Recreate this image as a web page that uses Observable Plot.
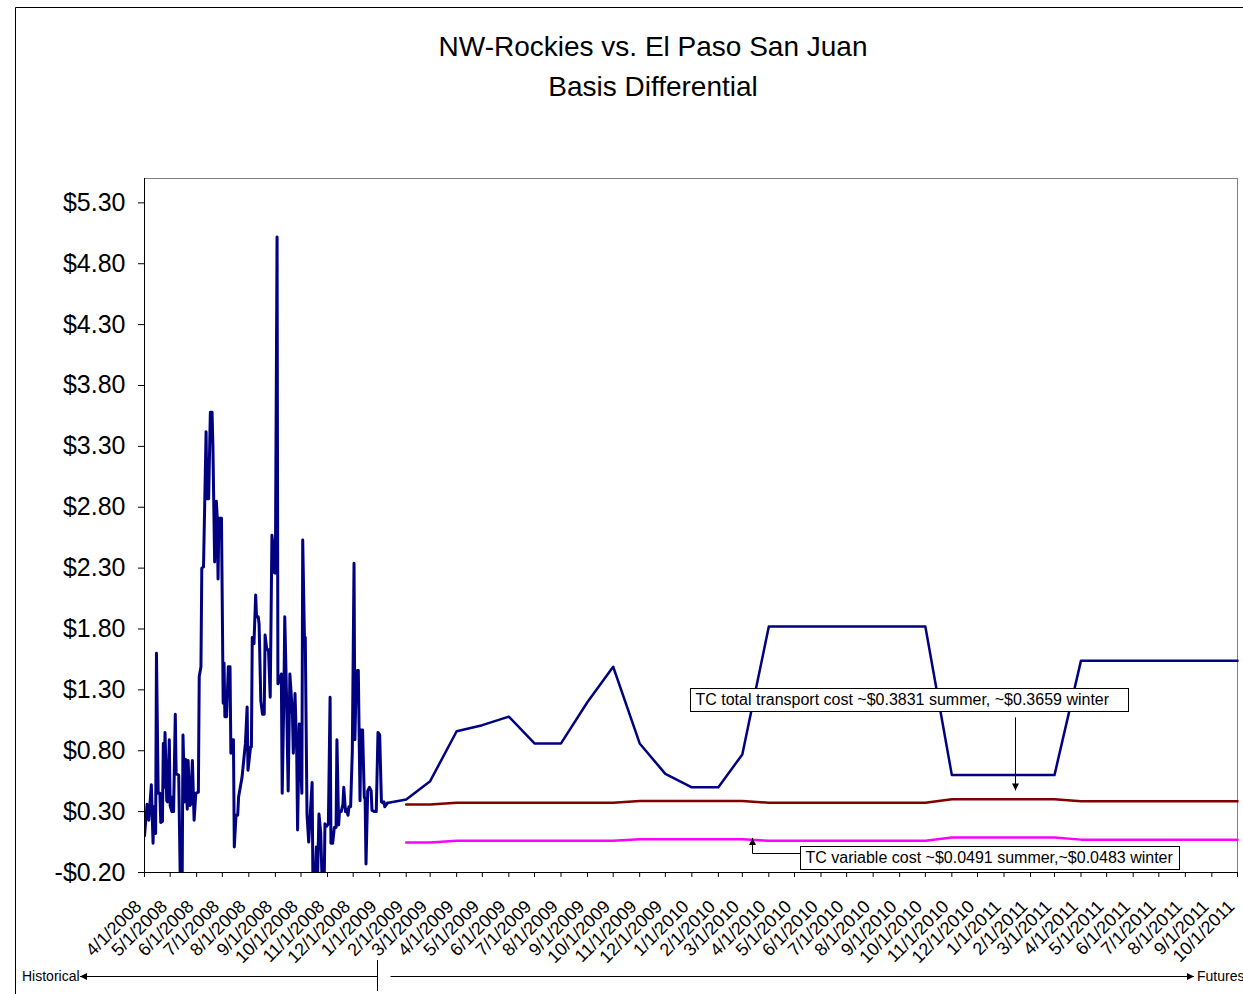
<!DOCTYPE html>
<html><head><meta charset="utf-8">
<script src="https://cdn.jsdelivr.net/npm/d3@7"></script>
<script src="https://cdn.jsdelivr.net/npm/@observablehq/plot@0.6"></script>
<style>
html,body{margin:0;padding:0;background:#fff;overflow:hidden;}
#wrap{position:relative;width:1243px;height:994px;font-family:"Liberation Sans",Arial,sans-serif;}
#wrap svg{position:absolute;left:0;top:0;}
</style></head><body><div id="wrap"></div>
<script>
// ---------- DATA ----------
const titleLines = ["NW-Rockies vs. El Paso San Juan", "Basis Differential"];
const yTicks = [-0.2, 0.3, 0.8, 1.3, 1.8, 2.3, 2.8, 3.3, 3.8, 4.3, 4.8, 5.3];
// historical daily basis: [days since 4/1/2008, $/MMBtu]
const histPoints = [
 [0,0.10],[3,0.36],[5,0.23],[8,0.52],[10,0.04],[11,0.34],[13,0.12],[14,1.60],[16,0.45],[18,0.45],
 [19,0.21],[21,0.22],[22,0.86],[23,0.50],[24,0.95],[26,0.39],[27,0.38],[29,0.89],[30,0.35],[32,0.30],
 [33,0.42],[34,0.30],[36,1.10],[37,0.61],[40,0.60],[42,-0.35],[44,-0.35],[45,0.93],[47,0.38],[48,0.73],
 [50,0.32],[51,0.72],[53,0.35],[54,0.36],[56,0.72],[58,0.23],[60,0.45],[63,0.46],[64,1.41],[66,1.49],
 [67,2.30],[69,2.31],[72,3.42],[73,2.87],[75,2.87],[77,3.58],[79,3.58],[80,3.30],[82,2.35],[84,2.85],
 [85,2.72],[86,2.21],[87,2.71],[90,2.71],[92,1.19],[93,1.52],[94,1.08],[96,1.08],[98,1.49],[100,1.49],
 [101,0.78],[102,0.89],[104,0.89],[105,0.01],[107,0.27],[109,0.27],[110,0.42],[112,0.50],[114,0.58],[116,0.72],
 [118,0.86],[120,1.16],[121,0.64],[124,0.83],[125,0.83],[126,1.73],[128,1.68],[130,2.08],[131,1.90],[133,1.90],
 [134,1.84],[136,1.21],[138,1.10],[140,1.10],[141,1.75],[143,1.63],[145,1.63],[147,1.24],[149,2.57],[150,2.50],
 [152,2.26],[153,2.26],[155,5.02],[156,1.35],[158,1.38],[160,1.43],[161,0.45],[163,1.27],[164,1.90],[166,1.27],
 [168,0.47],[170,1.43],[173,1.10],[174,0.78],[176,1.27],[178,0.78],[179,0.15],[181,1.02],[184,0.45],[185,2.53],
 [187,1.73],[188,1.73],[190,0.28],[192,0.05],[194,0.30],[196,0.54],[197,-0.35],[199,-0.35],[201,0.01],[202,-0.35],
 [204,0.28],[206,0.13],[208,-0.35],[210,-0.35],[211,0.20],[213,0.18],[215,0.20],[217,1.24],[218,0.04],[220,0.04],
 [222,0.17],[224,0.17],[225,0.89],[227,0.19],[228,0.30],[230,0.30],[232,0.36],[233,0.50],[235,0.30],[236,0.32],
 [238,0.27],[239,0.34],[241,0.34],[243,0.80],[245,2.34],[246,0.89],[247,1.21],[249,1.46],[250,1.46],[252,0.39],
 [253,0.97],[255,0.97],[257,0.42],[258,0.40],[259,-0.13],[261,0.47],[263,0.50],[265,0.47],[266,0.31],[269,0.30],
 [271,0.30],[273,0.95],[275,0.93],[277,0.38],[279,0.37],[280,0.38],[281,0.34],[284,0.37]
];
// monthly futures Feb-2009 .. Oct-2011
const futureValues = [
 0.40,0.55,0.96,1.01,1.08,0.86,0.86,1.20,1.49,0.86,0.61,
 0.50,0.50,0.77,1.82,1.82,1.82,1.82,1.82,1.82,1.82,0.60,0.60,
 0.60,0.60,0.60,1.54,1.54,1.54,1.54,1.54,1.54,1.54
];
const tcTotalValues = [
 0.358,0.358,0.372,0.372,0.372,0.372,0.372,0.372,0.372,0.388,0.388,
 0.388,0.388,0.388,0.372,0.372,0.372,0.372,0.372,0.372,0.372,0.402,0.402,
 0.402,0.402,0.402,0.385,0.385,0.385,0.385,0.385,0.385,0.385
];
const tcVariableValues = [
 0.047,0.047,0.060,0.060,0.060,0.060,0.060,0.060,0.060,0.074,0.074,
 0.074,0.074,0.074,0.060,0.060,0.060,0.060,0.060,0.060,0.060,0.088,0.088,
 0.088,0.088,0.088,0.070,0.070,0.070,0.070,0.070,0.070,0.070
];
const notes = [
 {text: "TC total transport cost ~$0.3831 summer, ~$0.3659 winter", date: "2009-12-30", value: 1.22, pad: 24},
 {text: "TC variable cost ~$0.0491 summer,~$0.0483 winter", date: "2010-05-08", value: -0.081, pad: 12}
];
const sideLabels = ["Historical", "Futures"];

// ---------- BUILD ----------
const FONT = '"Liberation Sans", Arial, sans-serif';
const base = Date.UTC(2008, 3, 1);
const hist = histPoints.map(([d, v]) => ({date: new Date(base + d * 864e5), value: v}));
const futMonths = d3.utcMonth.range(new Date("2009-02-01"), new Date("2011-10-02"));
const fut = futMonths.map((m, i) => ({date: m, value: futureValues[i]}));
const tcTotal = futMonths.map((m, i) => ({date: m, value: tcTotalValues[i]}));
const tcVar = futMonths.map((m, i) => ({date: m, value: tcVariableValues[i]}));
const futLine = [hist[hist.length - 1], ...fut];
const axisMonths = d3.utcMonth.range(new Date("2008-04-01"), new Date("2011-10-02"));
const fmtDate = d3.utcFormat("%-m/%-d/%Y");
const fmtDollar = v => (v < 0 ? "-$" : "$") + Math.abs(v).toFixed(2);
const x0 = new Date("2008-04-01"), x1 = new Date("2011-10-01");

const plot = Plot.plot({
  width: 1243, height: 994,
  marginLeft: 144, marginRight: 6, marginTop: 178, marginBottom: 122,
  style: {fontFamily: FONT, fontSize: "16px", color: "#000", background: "transparent", overflow: "visible"},
  x: {type: "utc", domain: [x0, x1]},
  y: {domain: [-0.2, 5.5]},
  marks: [
    Plot.frame({stroke: "#808080"}),
    Plot.axisY({ticks: yTicks, tickFormat: fmtDollar, tickSize: 6, tickPadding: 13, fontSize: 25, label: null}),
    Plot.axisX({ticks: axisMonths, tickSize: 5, tickFormat: () => "", label: null}),
    Plot.text(axisMonths, {x: d => d, frameAnchor: "bottom", text: fmtDate, rotate: -45,
      textAnchor: "end", lineAnchor: "middle", dx: -6, dy: 31, fontSize: 18, fill: "#000"}),
    Plot.line(tcVar, {x: "date", y: "value", stroke: "#FF00FF", strokeWidth: 2.5}),
    Plot.line(tcTotal, {x: "date", y: "value", stroke: "#800000", strokeWidth: 2.5}),
    Plot.line(hist, {x: "date", y: "value", stroke: "#000080", strokeWidth: 3, clip: true}),
    Plot.line(futLine, {x: "date", y: "value", stroke: "#000080", strokeWidth: 2.5}),
    Plot.ruleX([x0], {stroke: "#000"}),
    Plot.ruleY([-0.2], {stroke: "#000"})
  ]
});
const wrap = document.getElementById("wrap");
wrap.appendChild(plot);

// ---------- OVERLAY (title, annotations, frame) ----------
const xs = plot.scale("x"), ys = plot.scale("y");
const X = d => xs.apply(new Date(d)), Y = v => ys.apply(v);
const ov = d3.select(wrap).append("svg").attr("width", 1243).attr("height", 994)
  .style("font-family", FONT).style("pointer-events", "none");
ov.append("defs").append("marker").attr("id", "ah").attr("viewBox", "0 0 10 10")
  .attr("refX", 10).attr("refY", 5).attr("markerWidth", 7).attr("markerHeight", 7)
  .attr("orient", "auto").append("path").attr("d", "M0,0L10,5L0,10z").attr("fill", "#000");

// outer chart border
ov.append("path").attr("d", "M15.5,1000V7.5H1250").attr("fill", "none").attr("stroke", "#000");

// title
titleLines.forEach((t, i) => ov.append("text").attr("x", 653).attr("y", 56 + i * 40)
  .attr("text-anchor", "middle").attr("font-size", 28).attr("fill", "#000").text(t));

// annotation boxes
notes.forEach(n => {
  const bx = Math.round(X(n.date)) + 0.5, yc = Y(n.value);
  const g = ov.append("g");
  const t = g.append("text").attr("x", bx + 5).attr("y", yc).attr("dy", "0.35em")
    .attr("font-size", 16).attr("fill", "#000").text(n.text);
  const w = t.node().getComputedTextLength();
  g.insert("rect", "text").attr("x", bx).attr("y", Math.round(yc - 11.5) + 0.5)
    .attr("width", Math.round(w + n.pad)).attr("height", 23).attr("fill", "#fff").attr("stroke", "#000");
});
// arrow to TC total line
const ax1 = Math.round(X("2011-01-15")) + 0.5;
ov.append("line").attr("x1", ax1).attr("x2", ax1).attr("y1", Y(1.07)).attr("y2", Y(0.47))
  .attr("stroke", "#000").attr("marker-end", "url(#ah)");
// elbow arrow to TC variable line
const bx2 = Math.round(X(notes[1].date)) + 0.5, ex2 = Math.round(X("2010-03-13")) + 0.5, ey2 = Math.round(Y(-0.044)) + 0.5;
ov.append("path").attr("d", `M${bx2},${ey2}H${ex2}V${Y(0.08)}`).attr("fill", "none")
  .attr("stroke", "#000").attr("marker-end", "url(#ah)");

// historical / futures arrows
const divX = Math.round(X("2008-12-30")) + 0.5;
ov.append("text").attr("x", 22).attr("y", 981).attr("font-size", 14).attr("fill", "#000").text(sideLabels[0]);
ov.append("text").attr("x", 1197).attr("y", 981).attr("font-size", 14).attr("fill", "#000").text(sideLabels[1]);
ov.append("line").attr("x1", divX).attr("x2", 80).attr("y1", 976.5).attr("y2", 976.5)
  .attr("stroke", "#000").attr("marker-end", "url(#ah)");
ov.append("line").attr("x1", divX).attr("x2", divX).attr("y1", 960).attr("y2", 991).attr("stroke", "#000");
ov.append("line").attr("x1", divX + 13).attr("x2", 1194).attr("y1", 976.5).attr("y2", 976.5)
  .attr("stroke", "#000").attr("marker-end", "url(#ah)");
</script></body></html>
